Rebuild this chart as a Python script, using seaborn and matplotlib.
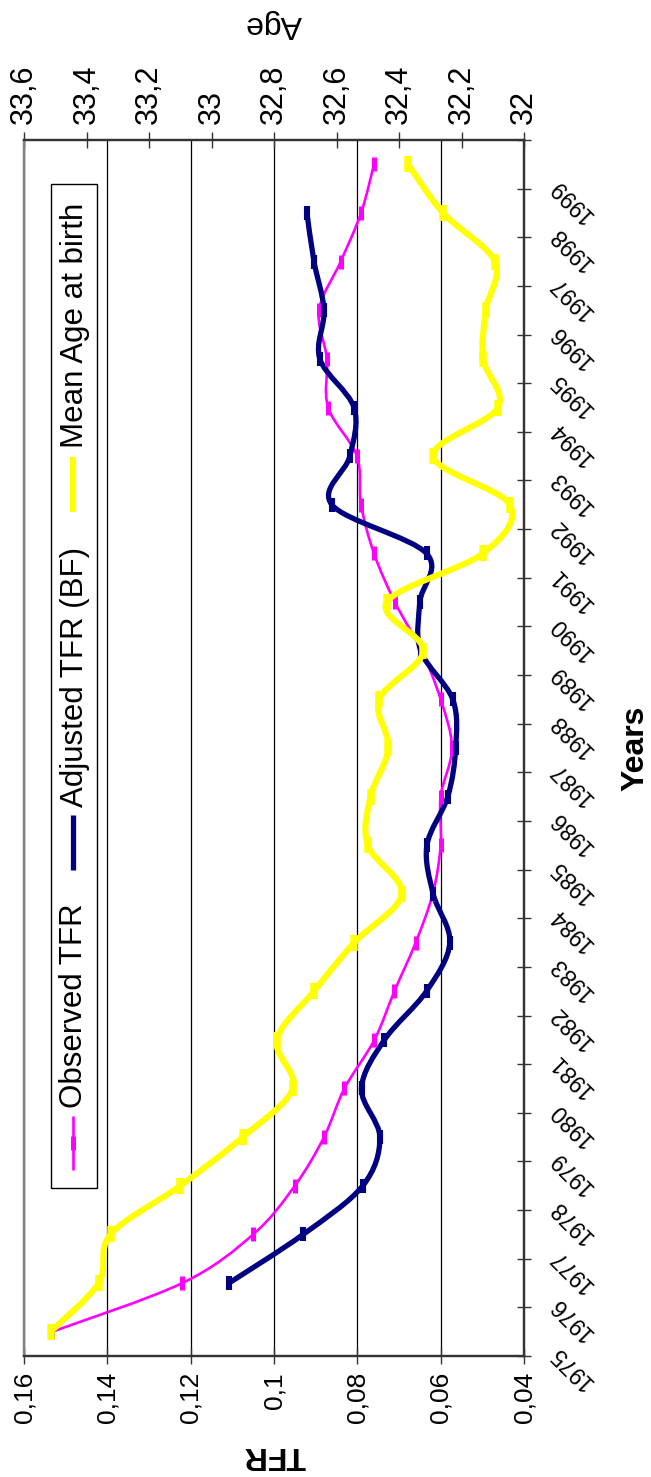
import numpy as np
import matplotlib
matplotlib.use("Agg")
import matplotlib.pyplot as plt
import matplotlib.transforms as mtransforms
from matplotlib.path import Path
from matplotlib.patches import PathPatch, Rectangle
from matplotlib.lines import Line2D
from matplotlib.ticker import FixedLocator, FuncFormatter
import seaborn as sns

# -----------------------------
# Data
# -----------------------------
years = list(range(1975, 2000))
observed_tfr = [0.1532, 0.1220, 0.1050, 0.0950, 0.0880, 0.0831, 0.0759, 0.0711,
                0.0660, 0.0619, 0.0600, 0.0600, 0.0573, 0.0600, 0.0646, 0.0710,
                0.0760, 0.0791, 0.0801, 0.0870, 0.0873, 0.0892, 0.0840, 0.0791,
                0.0760]
adjusted_tfr = [np.nan, 0.1108, 0.0930, 0.0787, 0.0746, 0.0790, 0.0735, 0.0634,
                0.0578, 0.0618, 0.0633, 0.0583, 0.0564, 0.0571, 0.0648, 0.0650,
                0.0634, 0.0861, 0.0818, 0.0808, 0.0890, 0.0880, 0.0904, 0.0921,
                np.nan]
mean_age = [33.515, 33.361, 33.323, 33.100, 32.900, 32.740, 32.791, 32.672,
            32.543, 32.391, 32.500, 32.491, 32.434, 32.463, 32.322, 32.439,
            32.131, 32.045, 32.291, 32.083, 32.131, 32.122, 32.093, 32.259,
            32.371]
tfr_ticks = [0.16, 0.14, 0.12, 0.10, 0.08, 0.06, 0.04]
age_ticks = [33.6, 33.4, 33.2, 33.0, 32.8, 32.6, 32.4, 32.2, 32.0]
series_names = ["Observed TFR", "Adjusted TFR (BF)", "Mean Age at birth"]

MAGENTA = "#FF00FF"
NAVY = "#000080"
YELLOW = "#FFFF00"

sns.set_theme(style="white")
plt.rcParams["font.family"] = ["Liberation Sans", "DejaVu Sans"]
plt.rcParams["text.color"] = "black"
plt.rcParams["xtick.color"] = "black"
plt.rcParams["ytick.color"] = "black"


def smooth_path(xs, ys):
    # Catmull-Rom style bezier through the points (like Excel's smoothed line)
    pts = np.column_stack([xs, ys]).astype(float)
    pts = pts[np.isfinite(pts).all(axis=1)]
    n = len(pts)
    verts = [pts[0]]
    codes = [Path.MOVETO]
    for i in range(n - 1):
        p0 = pts[max(i - 1, 0)]
        p1 = pts[i]
        p2 = pts[i + 1]
        p3 = pts[min(i + 2, n - 1)]
        verts += [p1 + (p2 - p0) / 6.0, p2 - (p3 - p1) / 6.0, p2]
        codes += [Path.CURVE4] * 3
    return Path(verts, codes)


def comma(v, pos=None):
    return ("%g" % round(v, 4)).replace(".", ",")


fig = plt.figure(figsize=(6.51, 14.77), dpi=100)
ax = fig.add_axes([24 / 651, 121 / 1477, 500 / 651, 1216 / 1477])
ax2 = ax.twiny()

# -----------------------------
# TFR series (main axes)
# -----------------------------
ax.add_patch(PathPatch(smooth_path(observed_tfr, years), fill=False,
                       edgecolor=MAGENTA, lw=1.9, zorder=3))
sns.scatterplot(x=observed_tfr, y=years, marker="|", s=110, linewidth=3.6,
                color=MAGENTA, ax=ax, zorder=4, legend=False)
ax.add_patch(PathPatch(smooth_path(adjusted_tfr, years), fill=False,
                       edgecolor=NAVY, lw=3.8, zorder=3, capstyle="butt"))
sns.scatterplot(x=adjusted_tfr, y=years, marker="|", s=100, linewidth=4.4,
                color=NAVY, ax=ax, zorder=4, legend=False)

# -----------------------------
# Age series (twin axes)
# -----------------------------
ax2.add_patch(PathPatch(smooth_path(mean_age, years), fill=False,
                        edgecolor=YELLOW, lw=4.4, zorder=3))
sns.scatterplot(x=mean_age, y=years, marker="|", s=120, linewidth=5.4,
                color=YELLOW, ax=ax2, zorder=4, legend=False)

# -----------------------------
# Axes styling
# -----------------------------
ax.set_xlim(tfr_ticks[0], tfr_ticks[-1])
ax.xaxis.set_major_locator(FixedLocator(tfr_ticks))
ax.xaxis.set_major_formatter(FuncFormatter(comma))
ax.tick_params(axis="x", direction="inout", length=11, width=1, color="#333333",
               labelsize=19, pad=6, labelrotation=90, labelcolor="black")
ax.grid(axis="x", color="black", lw=0.9)
ax.set_xlabel("")
ax.set_ylabel("")

ax.set_ylim(years[0] - 0.5, years[-1] + 0.5)
ax.yaxis.tick_right()
ax.set_yticks([y - 0.5 for y in years] + [years[-1] + 0.5])
ax.set_yticklabels([])
ax.tick_params(axis="y", direction="inout", length=10, width=1, color="#333333")

ax2.set_xlim(age_ticks[0], age_ticks[-1])
ax2.xaxis.set_major_locator(FixedLocator(age_ticks))
ax2.xaxis.set_major_formatter(FuncFormatter(comma))
ax2.tick_params(axis="x", direction="inout", length=11, width=1, color="#333333",
                labelsize=22, pad=6, labelrotation=90, labelcolor="black")
ax2.set_xlabel("")

for a in (ax, ax2):
    for side, sp in a.spines.items():
        sp.set_color("#808080" if side == "left" else "#333333")
        sp.set_linewidth(1.6)

# year labels, slanted, drawn next to the right axis
ytrans = mtransforms.blended_transform_factory(ax.transAxes, ax.transData)
offset = mtransforms.ScaledTranslation(30 / 100, -18 / 100, fig.dpi_scale_trans)
for yr in years:
    ax.text(1.0, yr, str(yr), transform=ytrans + offset, rotation=135,
            rotation_mode="anchor", ha="right", va="center", fontsize=16.5,
            color="black")

# axis titles
fig.text(635 / 651, 1 - 748 / 1477, "Years", rotation=90, fontsize=23,
         fontweight="bold", ha="center", va="center")
fig.text(274 / 651, 1 - 1455 / 1477, "TFR", rotation=180, fontsize=23,
         fontweight="bold", ha="center", va="center")
fig.text(274 / 651, 1 - 24 / 1477, "Age", rotation=180, fontsize=23,
         ha="center", va="center")

# -----------------------------
# Legend (rotated, built by hand)
# -----------------------------
ax2.add_patch(Rectangle((0.0534, 0.138), 0.092, 0.826, transform=ax2.transAxes,
                        facecolor="white", edgecolor="black", lw=1.0, zorder=10))
handles = [
    (0.153, 0.197, MAGENTA, 1.9, True, 0.204),
    (0.400, 0.445, NAVY, 3.8, False, 0.4515),
    (0.694, 0.739, YELLOW, 4.4, False, 0.7467),
]
for (y0, y1, col, lw, mark, ytxt), name in zip(handles, series_names):
    ax2.add_line(Line2D([0.098, 0.098], [y0, y1], transform=ax2.transAxes,
                        color=col, lw=lw, zorder=11, solid_capstyle="butt"))
    if mark:
        ax2.add_line(Line2D([0.098], [(y0 + y1) / 2], transform=ax2.transAxes,
                            marker="|", markersize=10, mew=3.6, color=col,
                            zorder=12))
    ax2.text(0.101, ytxt, name, transform=ax2.transAxes, rotation=90,
             ha="center", va="bottom", fontsize=22.5, zorder=12)

fig.savefig("out.png", dpi=100)
plt.close(fig)
